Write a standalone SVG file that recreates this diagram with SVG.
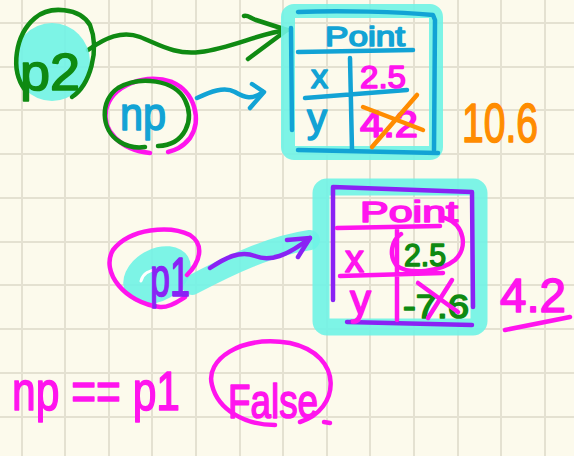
<svg xmlns="http://www.w3.org/2000/svg" width="574" height="456" viewBox="0 0 574 456">
<style>
.ink{fill:none;stroke-linecap:round;stroke-linejoin:round;stroke-width:4.5}
.hl{fill:none;stroke:#6ff3e6;stroke-linecap:round;stroke-linejoin:round;opacity:0.9}
.t{font-family:"Liberation Sans","DejaVu Sans",sans-serif;stroke-width:1.6;stroke-linejoin:round}
.green{stroke:#0f8a12}.gf{fill:#0f8a12;stroke:#0f8a12}
.blue{stroke:#12a3d5}.bf{fill:#12a3d5;stroke:#12a3d5}
.mag{stroke:#ff14ee}.mf{fill:#ff14ee;stroke:#ff14ee}
.pur{stroke:#8a22f4}.pf{fill:#8a22f4;stroke:#8a22f4}
.org{stroke:#ff8c00}.of{fill:#ff8c00;stroke:#ff8c00}
.grid{stroke:#e4e1d1;stroke-width:2;fill:none}
</style>
<rect width="574" height="456" fill="#fcfaec"/>
<path class="grid" d="M22,0V456M65,0V456M109,0V456M152,0V456M196,0V456M240,0V456M283,0V456M327,0V456M370,0V456M414,0V456M458,0V456M501,0V456M545,0V456M0,23H574M0,67H574M0,110H574M0,154H574M0,198H574M0,242H574M0,285H574M0,329H574M0,373H574M0,417H574"/>

<g id="connectors">
  <path class="hl" stroke-width="20" d="M192,285 C230,265 270,246 310,240"/>
  <path class="ink green" d="M88,50 C105,38 122,30 140,37 C160,45 175,55 200,52 C232,48 260,33 287,30"/>
  <path class="ink green" d="M244,16 C248,15 250,18 256,20 L287,30 L248,59"/>
  <path class="ink blue" d="M197,98 C210,92 224,86 235,92 C245,98 252,100 263,92"/>
  <path class="ink blue" d="M252,84 L264,92 L250,108"/>
  <path class="ink pur" d="M210,268 C225,258 240,250 255,256 C270,262 287,256 310,238"/>
  <path class="ink pur" d="M287,240 L310,238 L298,257"/>
</g>

<g id="node-p2">
  <ellipse cx="52" cy="62" rx="38" ry="39" fill="#6ff3e6" opacity="0.9"/>
  <path class="ink green" d="M72,97 C90,85 100,50 90,25 C80,8 50,5 35,18 C15,35 10,70 25,90"/>
  <text class="t gf" x="20" y="90" font-size="52" textLength="60" lengthAdjust="spacingAndGlyphs">p2</text>
</g>

<g id="node-np">
  <path class="ink mag" d="M150,153 C120,150 102,130 106,110 C112,85 145,73 172,82 C195,92 202,120 190,138 C182,148 175,150 168,152"/>
  <path class="ink green" d="M158,146 C185,145 195,120 185,100 C175,80 140,75 118,88 C100,100 100,130 120,142 C128,147 138,148 145,147"/>
  <text class="t bf" x="120" y="130" font-size="46" textLength="46" lengthAdjust="spacingAndGlyphs">np</text>
</g>

<g id="node-point1">
  <rect class="hl" x="288" y="11" width="148" height="142" rx="6" stroke-width="14"/>
  <path class="ink blue" d="M291,28 L292,130 M298,12 C340,10 400,12 433,15 L435,20 L434,150 M298,52 L413,50 M305,98 L407,90 M350,58 L352,150 M298,150 L438,153"/>
  <text class="t bf" x="325" y="46" font-size="28" textLength="80" lengthAdjust="spacingAndGlyphs">Point</text>
  <text class="t bf" x="311" y="88" font-size="34">x</text>
  <text class="t bf" x="307" y="132" font-size="40">y</text>
  <text class="t mf" x="360" y="88" font-size="32" textLength="46" lengthAdjust="spacingAndGlyphs">2.5</text>
  <text class="t mf" x="360" y="137" font-size="36" textLength="58" lengthAdjust="spacingAndGlyphs">4.2</text>
  <path class="ink org" stroke-width="7" d="M363,107 L423,130 M417,95 L372,147"/>
</g>
<g id="label-10-6">
  <text class="t of" x="462" y="142" font-size="56" textLength="76" lengthAdjust="spacingAndGlyphs">10.6</text>
</g>

<g id="node-p1">
  <ellipse cx="157" cy="275" rx="36" ry="26" transform="rotate(-30 157 275)" fill="#6ff3e6" opacity="0.9"/>
  <path fill="none" stroke="#ffffff" stroke-width="3" stroke-linecap="round" d="M141,281 C143,273 150,270 157,270"/>
  <path class="ink mag" d="M187,275 C200,262 205,245 190,235 C170,225 130,228 113,250 C100,272 125,303 160,307 C170,308 180,300 185,297"/>
  <text class="t pf" x="150" y="296" font-size="56" textLength="40" lengthAdjust="spacingAndGlyphs">p1</text>
</g>

<g id="node-point2">
  <rect class="hl" x="321" y="187" width="158" height="140" rx="6" stroke-width="17"/>
  <path class="ink pur" d="M333,187 L472,192 L473,307 M333,187 L333,300 M347,322 L472,325"/>
  <path class="ink mag" d="M337,228 L440,226 M340,276 L443,273 M397,230 L397,320"/>
  <path class="ink mag" d="M445,218 C465,225 468,248 455,260 C440,272 410,275 397,266 C388,255 392,240 401,234"/>
  <text class="t mf" x="360" y="222" font-size="30" textLength="98" lengthAdjust="spacingAndGlyphs">Point</text>
  <text class="t mf" x="345" y="272" font-size="38">x</text>
  <text class="t mf" x="350" y="314" font-size="42">y</text>
  <text class="t gf" x="404" y="266" font-size="32" textLength="42" lengthAdjust="spacingAndGlyphs">2.5</text>
  <text class="t gf" x="403" y="318" font-size="34" textLength="66" lengthAdjust="spacingAndGlyphs">-7.6</text>
  <path class="ink mag" d="M418,283 L458,312 M452,280 L428,318"/>
</g>
<g id="label-4-2">
  <text class="t mf" x="500" y="312" font-size="48" textLength="66" lengthAdjust="spacingAndGlyphs">4.2</text>
  <path class="ink mag" d="M505,330 L570,317"/>
</g>

<g id="node-expr">
  <text class="t mf" x="12" y="410" font-size="56" textLength="168" lengthAdjust="spacingAndGlyphs">np == p1</text>
  <path class="ink mag" d="M300,422 C340,410 345,355 290,343 C240,335 205,360 212,385 C218,410 245,425 275,425"/>
  <text class="t mf" x="228" y="418" font-size="48" textLength="90" lengthAdjust="spacingAndGlyphs">False</text>
  <path class="ink mag" d="M324,422 L330,423"/>
</g>
</svg>
